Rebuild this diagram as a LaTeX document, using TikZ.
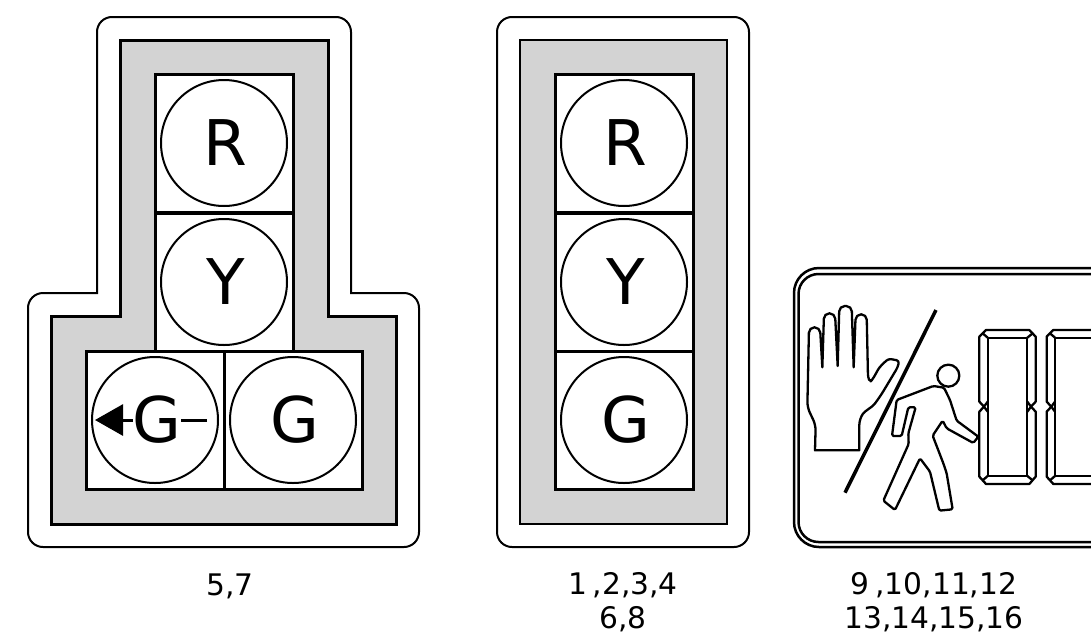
\documentclass[tikz,border=0pt]{standalone}
\usepackage{fontspec}
\setmainfont{DejaVu Sans}
\usetikzlibrary{arrows.meta}

\definecolor{housegray}{HTML}{D3D3D3}

\tikzset{
    shell/.style={draw, line width=2pt, rounded corners=15pt},
    plate/.style={draw, line width=3pt, fill=housegray},
    cell/.style={draw, line width=3pt, fill=white, minimum size=138pt, inner sep=0pt, outer sep=0pt},
    lamp/.style={draw, line width=2pt, circle, fill=white, minimum size=126pt, inner sep=0pt,
        font=\fontsize{63}{63}\selectfont, execute at begin node=\kern3pt},
    caption/.style={align=center, inner sep=0pt, font=\fontsize{29.7}{33.5}\selectfont},
    figure/.style={line width=2.3pt, line join=round}
}

\begin{document}
\begin{tikzpicture}[x=1pt, y=-1pt]
    \clip (0,0) rectangle (1091,640);
    \useasboundingbox (0,0) rectangle (1091,640);

    % Left housing
    \draw[shell] (97,293) [rounded corners=15pt] -- (97,17) -- (351,17) [sharp corners] -- (351,293)
        [rounded corners=15pt] -- (419,293) -- (419,547) -- (28,547) -- (28,293) [sharp corners] -- cycle;
    \draw[plate] (120,40) -- (328,40) -- (328,316) -- (396,316) -- (396,524) -- (51,524) -- (51,316) -- (120,316) -- cycle;

    \node[cell] (C1) at (224,143.5) {};
    \node[cell] (C2) at (224,282) {};
    \node[cell] (C3) at (155,420) {};
    \node[cell] (C4) at (293,420) {};

    \node[lamp] (R1) at (224,143) {R};
    \node[lamp] (Y1) at (224,282) {Y};
    \node[lamp] (A1) at (155,420) {};
    \node[lamp] (G1) at (293,420) {G};

    % Turn arrow
    \coordinate (tail) at (207,420);
    \coordinate (tip) at (95,420);
    \draw[line width=3pt, -{Triangle[length=28pt, width=31pt]}] (tail) -- (tip);
    \node[fill=white, inner sep=0pt, font=\fontsize{63}{63}\selectfont] (A1text) at (157,420) {G};

    % Middle housing
    \draw[shell] (497,17) rectangle (749,547);
    \draw[plate, line width=2.5pt] (520,40) rectangle (727,524);

    \node[cell] (C5) at (624,143.5) {};
    \node[cell] (C6) at (624,282) {};
    \node[cell] (C7) at (624,420) {};

    \node[lamp] (R2) at (624,143) {R};
    \node[lamp] (Y2) at (624,282) {Y};
    \node[lamp] (G2) at (624,420) {G};

    % Pedestrian sign
    \draw[line width=2.5pt, rounded corners=25pt] (794,268) rectangle (1120,547);
    \draw[line width=2.5pt, rounded corners=20pt] (798.5,274) rectangle (1120,542);

    \begin{scope}[shift={(800,290)}, x=0.3333pt, y=-0.3333pt]
        % Hand
        \draw[figure, rounded corners=5.4pt] (45,481) -- (47,405) -- (22,352) -- (27,112) -- (60,112)
            [sharp corners] -- (67,232) [rounded corners=5.4pt] -- (72,70) -- (105,70)
            [sharp corners] -- (113,228) [rounded corners=5.4pt] -- (118,48) -- (155,48)
            [sharp corners] -- (161,232) [rounded corners=5.4pt] -- (167,73) -- (200,73)
            [rounded corners=3pt] -- (204,262) -- (210,276) -- (218,268) -- (238,232) -- (265,206) -- (298,212) -- (293,232)
            -- (245,312) -- (222,345) -- (188,370) -- (178,395) [sharp corners] -- (178,481) -- cycle;
        % Slash
        \draw[line width=3.5pt] (408,60) -- (135,608);
        % Walker
        \node[draw, figure, circle, minimum size=22pt, inner sep=0pt] (head) at (445,257) {};
        \draw[figure, rounded corners=1.5pt] (290,330) -- (400,288) -- (432,293) -- (450,330) -- (470,392) -- (535,440)
            -- (520,459) -- (440,415) -- (428,392) -- (398,437) -- (430,520) -- (440,550) -- (458,658) -- (418,662)
            -- (390,545) -- (360,505) -- (285,660) -- (250,632) -- (326,462) -- (325,430) -- (347,352) -- (325,352)
            -- (305,438) -- (276,438) -- cycle;
    \end{scope}

    % Counter digits
    \foreach \dx in {0,202} {
        \begin{scope}[shift={(970,320)}, x=0.3333pt, y=-0.3333pt, xshift=\dx*0.3333pt]
            \draw[figure] (48,30) -- (178,30) -- (197,50) -- (197,245) -- (183,260) -- (197,275) -- (197,470)
                -- (178,492) -- (48,492) -- (28,470) -- (28,275) -- (42,260) -- (28,245) -- (28,50) -- cycle;
            \draw[figure] (53,53) rectangle (172,468);
            \draw[figure] (38,40) -- (53,53) (188,40) -- (172,53) (38,481) -- (53,468) (188,481) -- (172,468);
            \draw[figure] (53,245) -- (42,260) -- (53,275) (172,245) -- (183,260) -- (172,275);
        \end{scope}
    }

    % Captions
    \node[caption] (L1) at (230,586) {5,7};
    \node[caption] (L2) at (623,602) {1\kern.2em,2,3,4\\6,8};
    \node[caption] (L3) at (934,602) {9\kern.2em,10,11,12\\13,14,15,16};
\end{tikzpicture}
\end{document}
